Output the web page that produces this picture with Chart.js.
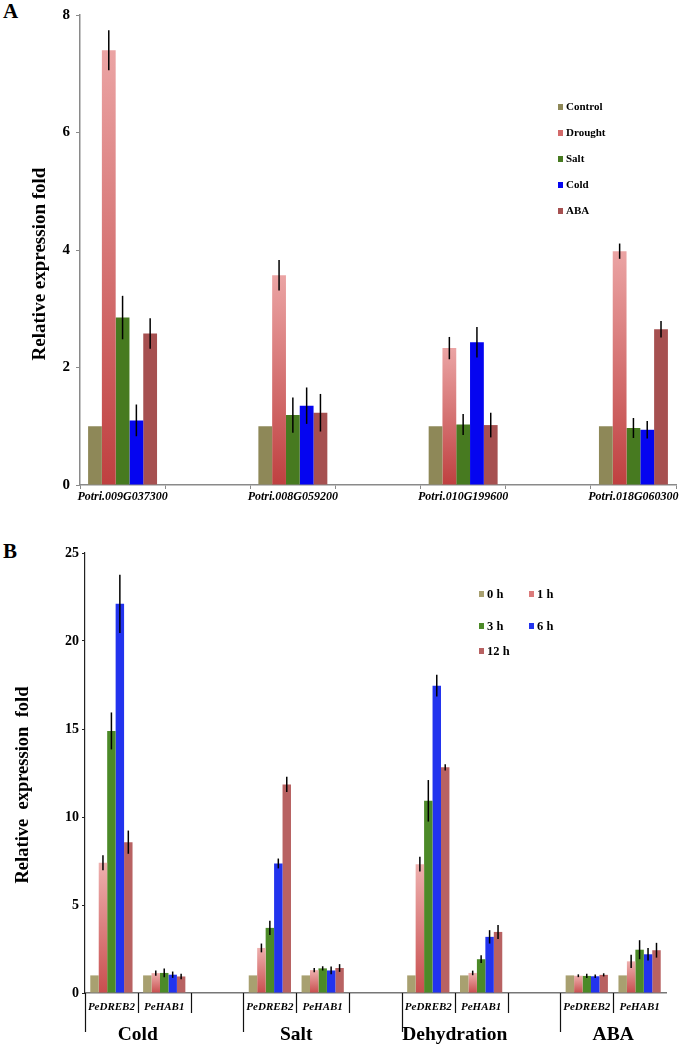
<!DOCTYPE html>
<html><head><meta charset="utf-8">
<script src="https://cdn.jsdelivr.net/npm/chart.js@4.4.1/dist/chart.umd.min.js"></script>
<style>
body{margin:0;background:#fff;width:692px;height:1046px;position:relative;overflow:hidden;font-family:"Liberation Serif",serif}
canvas{position:absolute;left:0}
#ca{top:0}
#cb{top:520px}
.pl{position:absolute;font:bold 21px "Liberation Serif",serif;color:#000}
</style></head><body>
<div class="pl" style="left:3px;top:-1px">A</div>
<div class="pl" style="left:3px;top:539px">B</div>
<canvas id="ca" width="692" height="520"></canvas>
<canvas id="cb" width="692" height="526"></canvas>
<script>
// ---------- Panel A data ----------
const genesA = ['Potri.009G037300','Potri.008G059200','Potri.010G199600','Potri.018G060300'];
const treatmentsA = ['Control','Drought','Salt','Cold','ABA'];
const controlA = [1, 1, 1, 1];
const droughtA = [7.40, 3.57, 2.33, 3.98];
const droughtErrA = [0.34, 0.26, 0.19, 0.13];
const saltA = [2.85, 1.19, 1.03, 0.97];
const saltErrA = [0.37, 0.30, 0.18, 0.17];
const coldA = [1.10, 1.35, 2.43, 0.94];
const coldErrA = [0.27, 0.31, 0.26, 0.15];
const abaA = [2.58, 1.23, 1.02, 2.65];
const abaErrA = [0.26, 0.32, 0.21, 0.14];
const yTicksA = {min: 0, max: 8, step: 2};

// ---------- Panel B data ----------
const stressesB = ['Cold','Salt','Dehydration','ABA'];
const genesB = ['PeDREB2','PeHAB1'];
const timesB = ['0 h','1 h','3 h','6 h','12 h'];
// order: Cold-DREB2, Cold-HAB1, Salt-DREB2, Salt-HAB1, Dehy-DREB2, Dehy-HAB1, ABA-DREB2, ABA-HAB1
const h0B = [1, 1, 1, 1, 1, 1, 1, 1];
const h1B = [7.40, 1.13, 2.56, 1.30, 7.32, 1.14, 0.98, 1.80];
const h1ErrB = [0.43, 0.15, 0.25, 0.12, 0.42, 0.13, 0.08, 0.38];
const h3B = [14.89, 1.14, 3.70, 1.40, 10.92, 1.92, 0.97, 2.46];
const h3ErrB = [1.05, 0.25, 0.41, 0.12, 1.18, 0.22, 0.12, 0.54];
const h6B = [22.11, 1.04, 7.36, 1.28, 17.46, 3.19, 0.95, 2.20];
const h6ErrB = [1.65, 0.18, 0.28, 0.22, 0.62, 0.38, 0.10, 0.36];
const h12B = [8.57, 0.94, 11.85, 1.42, 12.82, 3.47, 1.03, 2.43];
const h12ErrB = [0.66, 0.16, 0.43, 0.22, 0.18, 0.40, 0.09, 0.42];
const yTicksB = {min: 0, max: 25, step: 5};

// ---------- helpers ----------
const SERIF = '"Liberation Serif", "Times New Roman", serif';
function spreadA(arr){ // gene, blank, gene, blank ...
  const out = [];
  arr.forEach((v,i)=>{ out.push(v); if(i < arr.length-1) out.push(null); });
  return out;
}
function spreadB(arr){ // per stress: DREB2, HAB1, blank (none after last)
  const out = [];
  for(let g=0; g<stressesB.length; g++){
    out.push(arr[2*g], arr[2*g+1]);
    if(g < stressesB.length-1) out.push(null);
  }
  return out;
}
const labelsA = spreadA(genesA).map((v,i)=> i%2===0 ? genesA[i/2] : '');
const labelsB = [];
stressesB.forEach((s,g)=>{ labelsB.push(genesB[0], genesB[1]); if(g<stressesB.length-1) labelsB.push(''); });

function grad(top, bottom){
  return (ctx)=>{
    const c = ctx.chart;
    if(!c.chartArea || ctx.raw == null || ctx.type !== 'data') return bottom;
    const y = c.scales.y;
    const y0 = y.getPixelForValue(ctx.raw), y1 = y.getPixelForValue(0);
    if(!isFinite(y0) || !isFinite(y1) || y0 === y1) return bottom;
    const g = c.ctx.createLinearGradient(0, y0, 0, y1);
    g.addColorStop(0, top); g.addColorStop(1, bottom);
    return g;
  };
}

const errorBars = {
  id: 'errorBars',
  afterDatasetsDraw(chart){
    const {ctx} = chart; const y = chart.scales.y;
    ctx.save(); ctx.strokeStyle = '#000'; ctx.lineWidth = 1.5;
    chart.data.datasets.forEach((ds,i)=>{
      if(!ds.errors) return;
      chart.getDatasetMeta(i).data.forEach((bar,j)=>{
        const v = ds.data[j], e = ds.errors[j];
        if(v == null || e == null) return;
        ctx.beginPath();
        ctx.moveTo(bar.x, y.getPixelForValue(v+e));
        ctx.lineTo(bar.x, y.getPixelForValue(v-e));
        ctx.stroke();
      });
    });
    ctx.restore();
  }
};

function yTitle(text, x, y, size){
  return {
    id: 'yTitle',
    afterDraw(chart){
      const ctx = chart.ctx; ctx.save();
      ctx.translate(x, y); ctx.rotate(-Math.PI/2);
      ctx.font = 'bold ' + size + 'px ' + SERIF;
      ctx.fillStyle = '#000'; ctx.textAlign = 'center'; ctx.textBaseline = 'middle';
      ctx.fillText(text, 0, 0);
      ctx.restore();
    }
  };
}

function customLegend(items, size){
  return {
    id: 'customLegend',
    afterDraw(chart){
      const ctx = chart.ctx; ctx.save();
      ctx.font = 'bold ' + size + 'px ' + SERIF;
      ctx.textBaseline = 'middle'; ctx.textAlign = 'left';
      items.forEach(it=>{
        const ds = chart.data.datasets[it.ds];
        ctx.fillStyle = ds.legendColor;
        ctx.fillRect(it.x, it.y - 3, 5, 6);
        ctx.fillStyle = '#000';
        ctx.fillText(ds.label, it.x + 8, it.y + 0.5);
      });
      ctx.restore();
    }
  };
}

// ---------- Chart A ----------
const colsA = {control:'#8e8858', salt:'#477a20', cold:'#0505f0', aba:'#a65050'};
const dsA = [
  {label: treatmentsA[0], data: spreadA(controlA), backgroundColor: colsA.control, legendColor: colsA.control},
  {label: treatmentsA[1], data: spreadA(droughtA), errors: spreadA(droughtErrA), backgroundColor: grad('#eba4a4','#bf4040'), legendColor:'#d36a6a'},
  {label: treatmentsA[2], data: spreadA(saltA), errors: spreadA(saltErrA), backgroundColor: colsA.salt, legendColor: colsA.salt},
  {label: treatmentsA[3], data: spreadA(coldA), errors: spreadA(coldErrA), backgroundColor: colsA.cold, legendColor: colsA.cold},
  {label: treatmentsA[4], data: spreadA(abaA), errors: spreadA(abaErrA), backgroundColor: colsA.aba, legendColor: colsA.aba}
];
dsA.forEach(d=>{ d.categoryPercentage = 0.81; d.barPercentage = 1.0; d.borderWidth = 0; });

new Chart(document.getElementById('ca'), {
  type: 'bar',
  data: {labels: labelsA, datasets: dsA},
  options: {
    responsive: false, animation: false,
    layout: {padding: {top: 13, right: 16, bottom: 0, left: 0}},
    plugins: {legend: {display: false}, tooltip: {enabled: false}},
    scales: {
      x: {
        grid: {display: true, drawOnChartArea: false, drawTicks: true, tickLength: 4, color: '#8a8a8a', offset: true},
        border: {display: true, color: '#8a8a8a', width: 1.5},
        ticks: {autoSkip: false, maxRotation: 0, minRotation: 0, padding: 1, color: '#000',
                font: {family: SERIF, size: 12, style: 'italic', weight: 'bold'}},
        afterFit(s){ s.height = 35; }
      },
      y: {
        min: yTicksA.min, max: yTicksA.max,
        grid: {display: true, drawOnChartArea: false, drawTicks: true, tickLength: 4, color: '#8a8a8a'},
        border: {display: true, color: '#8a8a8a', width: 1.5},
        ticks: {stepSize: yTicksA.step, padding: 6, color: '#000', font: {family: SERIF, size: 15, weight: 'bold'}},
        afterFit(s){ s.width = 80; }
      }
    }
  },
  plugins: [errorBars, yTitle('Relative expression fold', 40, 264, 19),
    customLegend([{ds:0,x:558,y:107},{ds:1,x:558,y:133},{ds:2,x:558,y:159},{ds:3,x:558,y:185},{ds:4,x:558,y:211}], 11)]
});

// ---------- Chart B ----------
const colsB = {h0:'#a8a070', h3:'#4c8a28', h6:'#2233ee', h12:'#b86262'};
const dsB = [
  {label: timesB[0], data: spreadB(h0B), backgroundColor: colsB.h0, legendColor: colsB.h0},
  {label: timesB[1], data: spreadB(h1B), errors: spreadB(h1ErrB), backgroundColor: grad('#eeb0ae','#c84e4e'), legendColor:'#db7b7b'},
  {label: timesB[2], data: spreadB(h3B), errors: spreadB(h3ErrB), backgroundColor: colsB.h3, legendColor: colsB.h3},
  {label: timesB[3], data: spreadB(h6B), errors: spreadB(h6ErrB), backgroundColor: colsB.h6, legendColor: colsB.h6},
  {label: timesB[4], data: spreadB(h12B), errors: spreadB(h12ErrB), backgroundColor: colsB.h12, legendColor: colsB.h12}
];
dsB.forEach(d=>{ d.categoryPercentage = 0.8; d.barPercentage = 1.0; d.borderWidth = 0; });

const groupAxis = {
  id: 'groupAxis',
  afterDraw(chart){
    const ctx = chart.ctx; const x = chart.scales.x; const bottom = chart.chartArea.bottom;
    const w = x.getPixelForValue(1) - x.getPixelForValue(0);
    ctx.save(); ctx.strokeStyle = '#111'; ctx.lineWidth = 1.2;
    labelsB.forEach((lab,i)=>{
      const px = Math.round(x.getPixelForValue(i) - w/2) + 0.5;
      const long = (i % 3 === 0);
      ctx.beginPath(); ctx.moveTo(px, bottom); ctx.lineTo(px, bottom + (long ? 39 : 20)); ctx.stroke();
    });
    ctx.font = 'bold 19.5px ' + SERIF; ctx.fillStyle = '#000';
    ctx.textAlign = 'center'; ctx.textBaseline = 'middle';
    stressesB.forEach((s,g)=>{
      const cx = (x.getPixelForValue(3*g) + x.getPixelForValue(3*g+1)) / 2;
      ctx.fillText(s, cx, bottom + 42);
    });
    ctx.restore();
  }
};

new Chart(document.getElementById('cb'), {
  type: 'bar',
  data: {labels: labelsB, datasets: dsB},
  options: {
    responsive: false, animation: false,
    layout: {padding: {top: 33, right: 26, bottom: 0, left: 0}},
    plugins: {legend: {display: false}, tooltip: {enabled: false}},
    scales: {
      x: {
        grid: {display: false, drawTicks: false},
        border: {display: true, color: '#777', width: 1.5},
        ticks: {autoSkip: false, maxRotation: 0, minRotation: 0, padding: 8, color: '#000',
                font: {family: SERIF, size: 11, style: 'italic', weight: 'bold'}},
        afterFit(s){ s.height = 53; }
      },
      y: {
        min: yTicksB.min, max: yTicksB.max,
        grid: {display: true, drawOnChartArea: false, drawTicks: true, tickLength: 3, color: '#222'},
        border: {display: true, color: '#222', width: 1.2},
        ticks: {stepSize: yTicksB.step, padding: 3, color: '#000', font: {family: SERIF, size: 14, weight: 'bold'}},
        afterFit(s){ s.width = 85; }
      }
    }
  },
  plugins: [errorBars, groupAxis, yTitle('Relative  expression  fold', 23, 265, 18.5),
    customLegend([{ds:0,x:479,y:74},{ds:1,x:529,y:74},{ds:2,x:479,y:106},{ds:3,x:529,y:106},{ds:4,x:479,y:131}], 12.5)]
});
</script>
</body></html>
